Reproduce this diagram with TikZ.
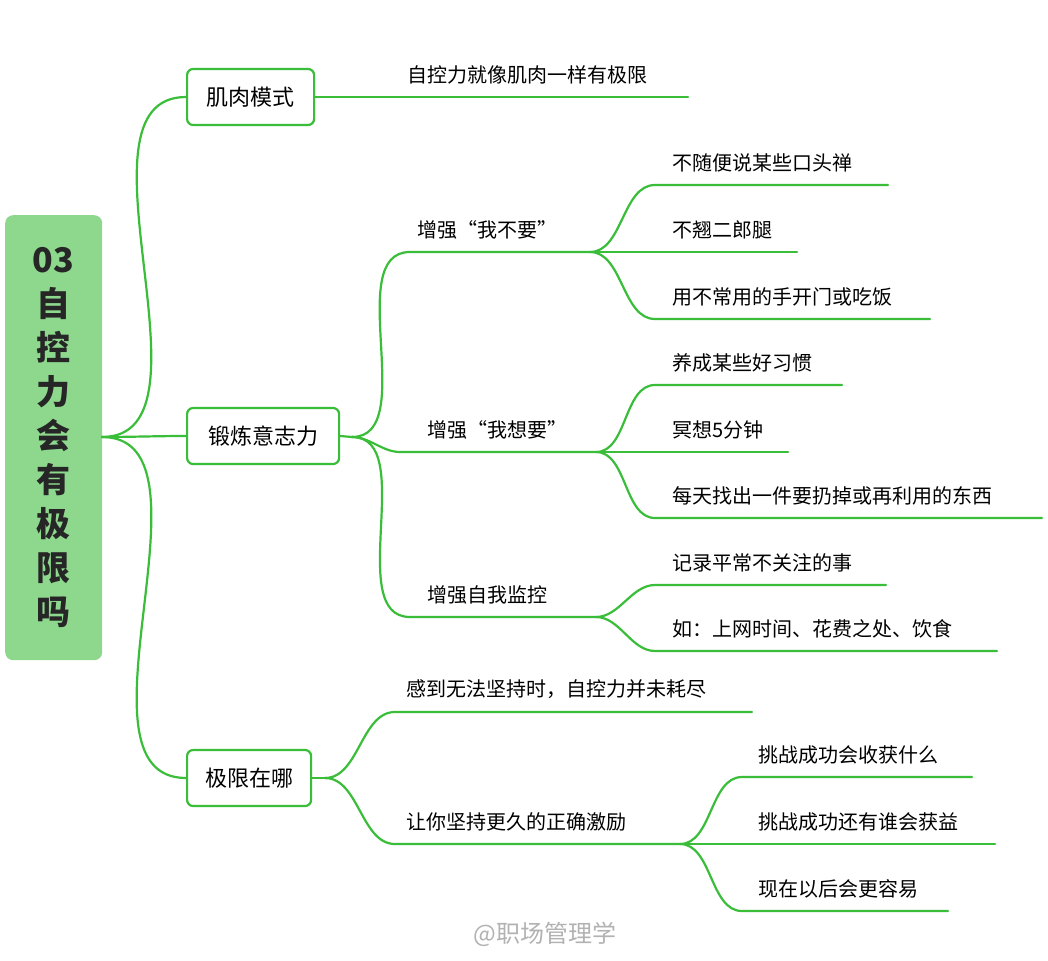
\documentclass[tikz,border=0pt]{standalone}
\usepackage{fontspec}
\setmainfont{Noto Sans CJK SC}
\definecolor{lg}{RGB}{58,190,58}
\definecolor{rootfill}{RGB}{142,216,142}
\begin{document}
\begin{tikzpicture}[x=1pt,y=-1pt,
  ln/.style={draw=lg, line width=2.2pt, line cap=round},
  cv/.style={ln, out=0, in=180, looseness=0.9},
  lbl/.style={inner sep=2pt, font=\fontsize{20}{23}\selectfont, anchor=south west},
  br/.style={draw=lg, line width=2.2pt, rounded corners=6pt, fill=white, font=\fontsize{22}{25}\selectfont, inner sep=0pt, anchor=west, minimum height=56pt}]
\useasboundingbox (0,0) rectangle (1048,960);
\fill[white] (0,0) rectangle (1048,960);
% root
\node[fill=rootfill, rounded corners=8pt, minimum width=97pt, minimum height=445pt, anchor=north west, inner sep=0pt, text=black!85, font=\fontsize{34}{44}\selectfont\bfseries, align=center] (root) at (5,215) {03\\自\\控\\力\\会\\有\\极\\限\\吗};
\coordinate (r) at (102,437);
% branch boxes
\node[br, minimum width=127pt] (b1) at (186,97) {肌肉模式};
\node[br, minimum width=152pt] (b2) at (186,436) {锻炼意志力};
\node[br, minimum width=124pt] (b3) at (186,778) {极限在哪};
\draw[cv] (r) to (b1.west);
\draw[cv] (r) to (b2.west);
\draw[cv] (r) to (b3.west);
% b1 child
\node[lbl] (t1) at (405,86) {自控力就像肌肉一样有极限};
\coordinate (e1) at (688,97);
\draw[ln] (b1.east) -- (e1);
% b2 children
\coordinate (s2) at (352,437);
\draw[ln] (b2.east) -- (s2);
\coordinate (a1) at (590,252); \coordinate (a2) at (596,452); \coordinate (a3) at (596,617);
\node[lbl] (m1) at (415,241) {增强“我不要”};
\node[lbl] (m2) at (425,441) {增强“我想要”};
\node[lbl] (m3) at (425,606) {增强自我监控};
\draw[cv] (s2) to (410,252) -- (a1);
\draw[cv] (s2) to (400,452) -- (a2);
\draw[cv] (s2) to (410,617) -- (a3);
% sub items
\foreach \sx/\sy/\y/\ex/\txt [count=\i] in {590/252/185/888/不随便说某些口头禅, 590/252/252/797/不翘二郎腿, 590/252/319/930/用不常用的手开门或吃饭, 596/452/385/842/养成某些好习惯, 596/452/452/788/冥想5分钟, 596/452/518/1042/每天找出一件要扔掉或再利用的东西, 596/617/585/886/记录平常不关注的事, 596/617/651/997/如：上网时间、花费之处、饮食}{
  \node[lbl] (s\i) at (670,\y-11) {\txt};
  \draw[cv] (\sx,\sy) to (655,\y) -- (\ex,\y);
}
% b3 children
\coordinate (s3) at (325,778);
\draw[ln] (b3.east) -- (s3);
\node[lbl] (k1) at (404,701) {感到无法坚持时，自控力并未耗尽};
\node[lbl] (k2) at (404,833) {让你坚持更久的正确激励};
\coordinate (c2) at (680,844);
\draw[cv] (s3) to (395,712) -- (752,712);
\draw[cv] (s3) to (395,844) -- (c2);
\foreach \y/\ex/\txt [count=\i] in {777/972/挑战成功会收获什么, 844/995/挑战成功还有谁会获益, 911/948/现在以后会更容易}{
  \node[lbl] (q\i) at (756,\y-11) {\txt};
  \draw[cv] (c2) to (742,\y) -- (\ex,\y);
}
\node[text=gray!60, font=\fontsize{24}{28}\selectfont] (wm) at (545,934) {@职场管理学};
\end{tikzpicture}
\end{document}
